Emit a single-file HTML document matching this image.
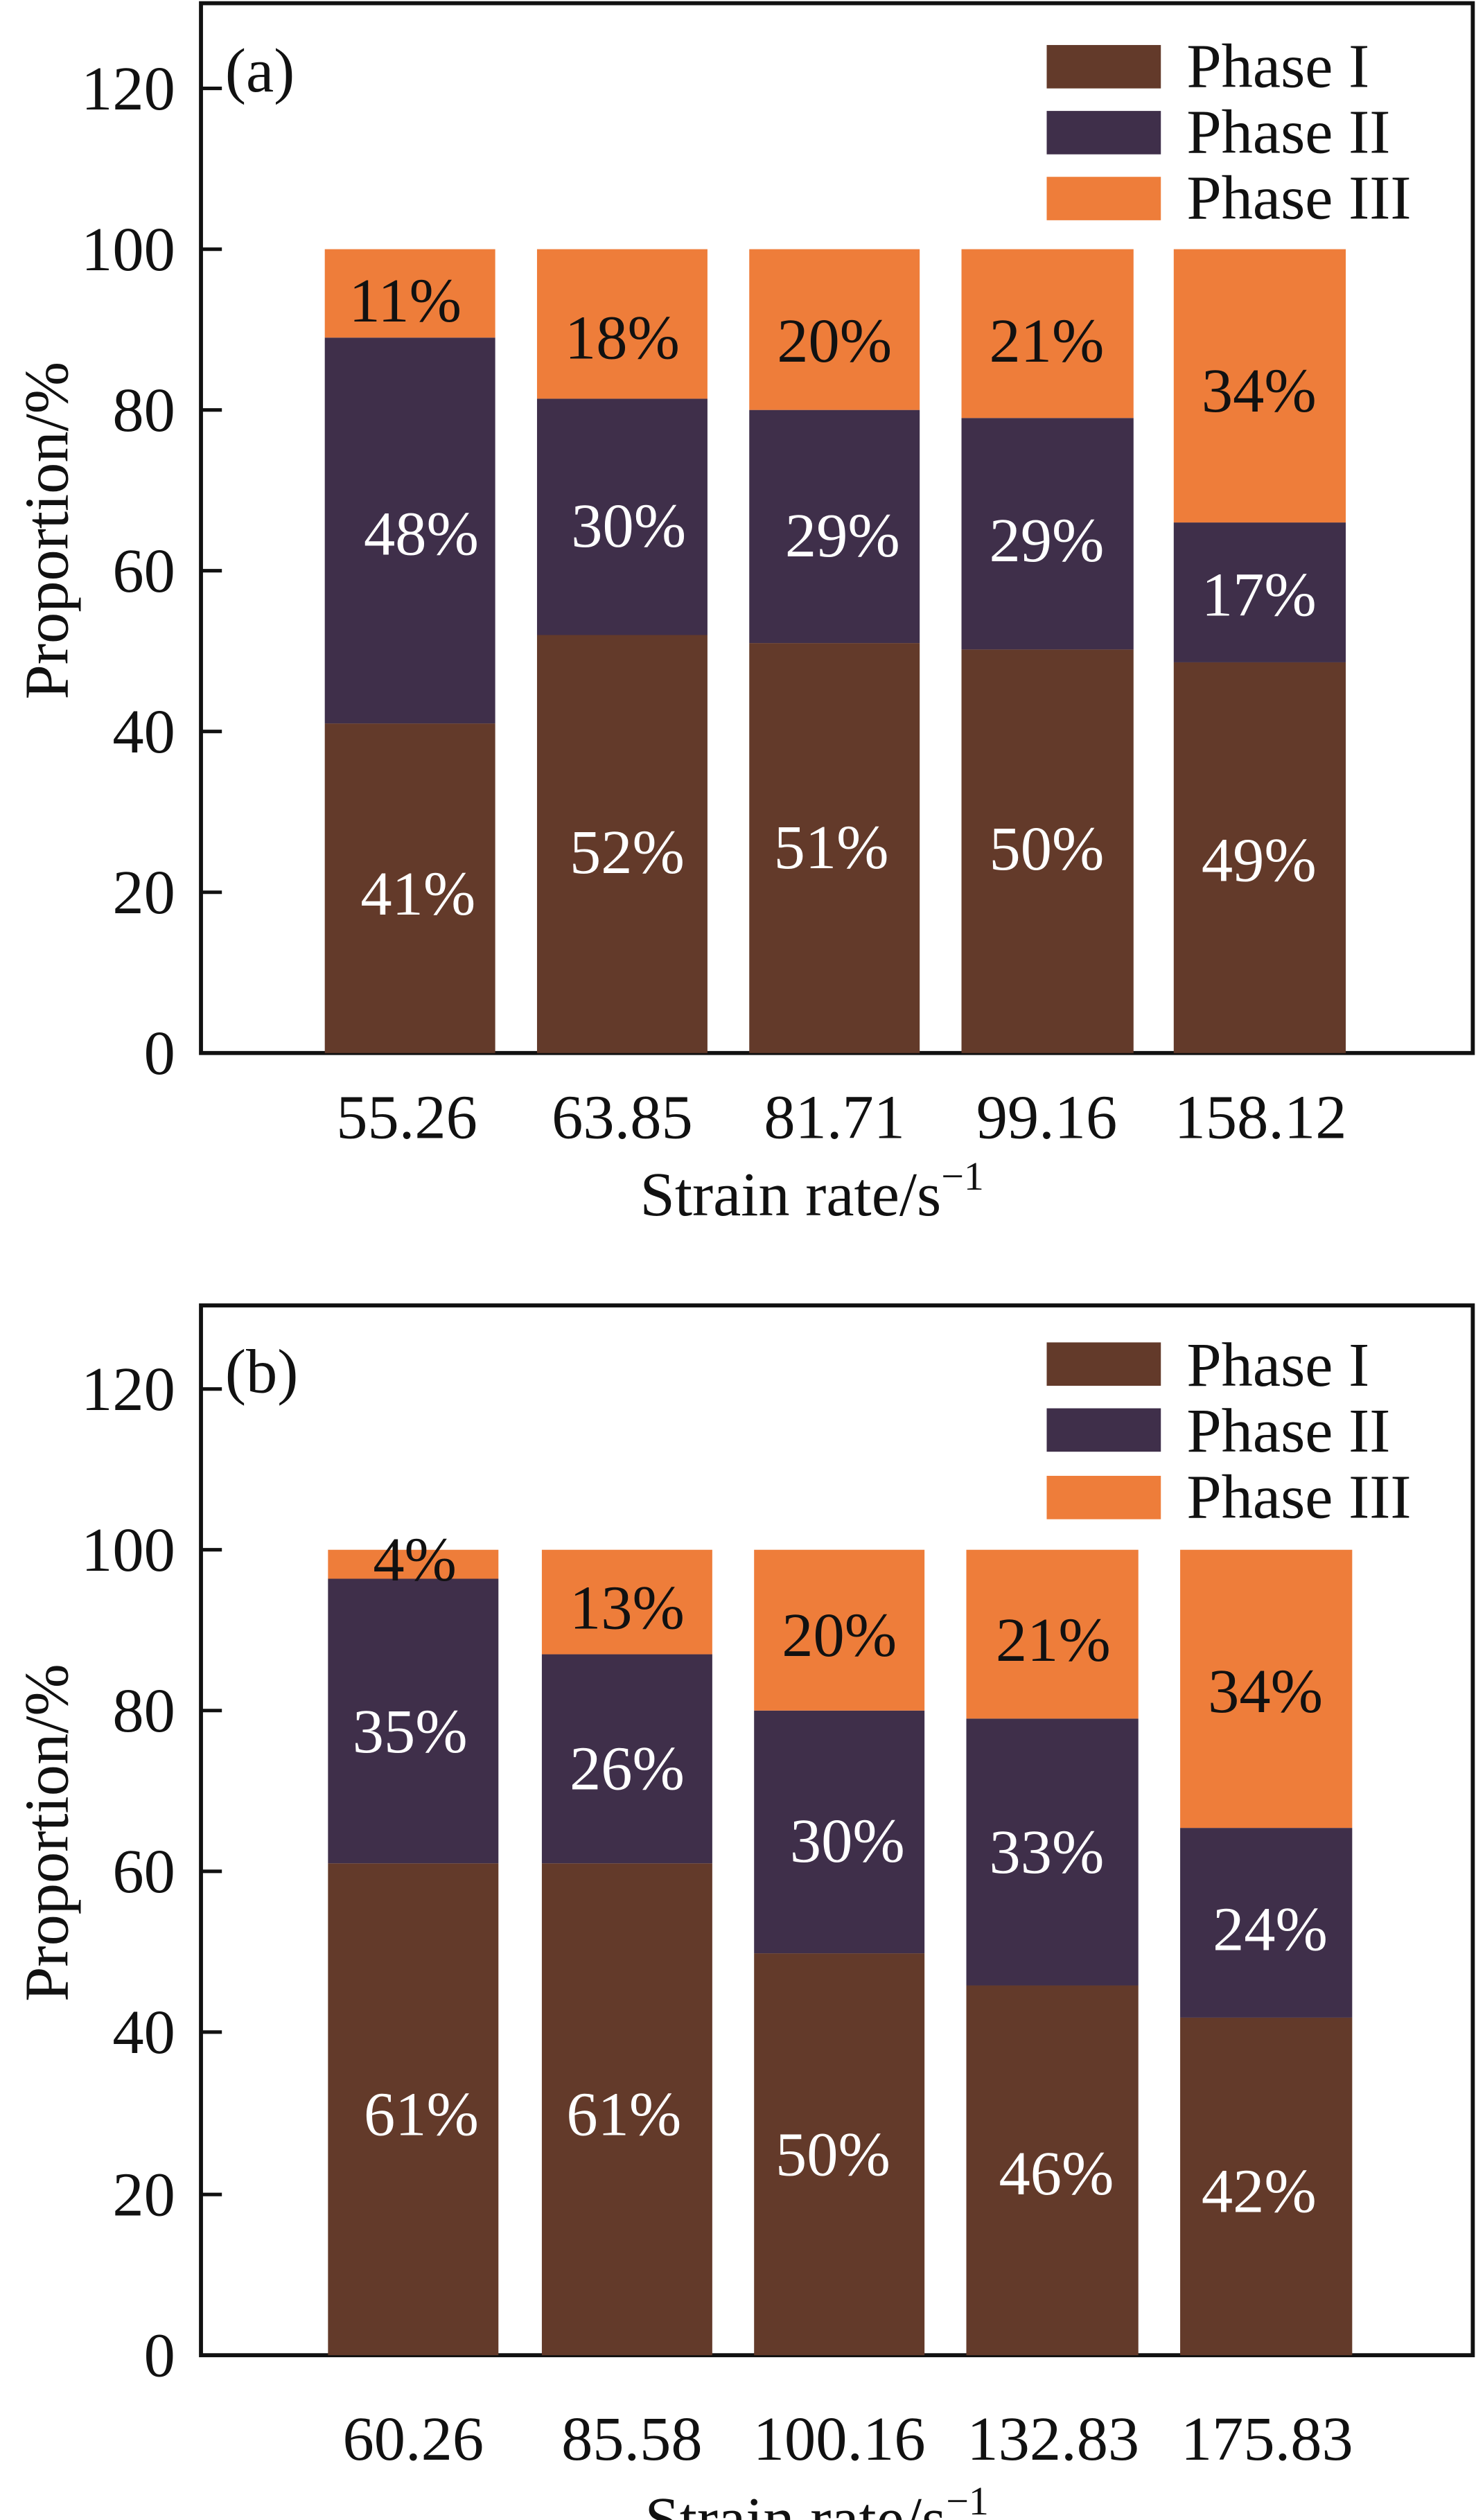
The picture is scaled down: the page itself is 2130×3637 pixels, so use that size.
<!DOCTYPE html>
<html><head><meta charset="utf-8"><style>html,body{margin:0;padding:0;background:#fff}svg{display:block}</style></head>
<body>
<svg xmlns="http://www.w3.org/2000/svg" width="2130" height="3637" viewBox="0 0 918 1567.5" preserveAspectRatio="none" font-family="'Liberation Serif', serif">
<g id="a">
<rect x="125" y="2" width="791" height="653" fill="none" stroke="#111" stroke-width="2.5"/>
<g stroke="#111" stroke-width="2.2">
<line x1="125" y1="55" x2="138" y2="55"/><line x1="125" y1="155" x2="138" y2="155"/><line x1="125" y1="255" x2="138" y2="255"/><line x1="125" y1="355" x2="138" y2="355"/><line x1="125" y1="455" x2="138" y2="455"/><line x1="125" y1="555" x2="138" y2="555"/>
</g>
<g font-size="39" text-anchor="end" fill="#111">
<text x="109" y="68">120</text><text x="109" y="168">100</text><text x="109" y="268">80</text><text x="109" y="368">60</text><text x="109" y="468">40</text><text x="109" y="568">20</text><text x="109" y="668">0</text>
</g>
<text transform="translate(42,330) rotate(-90)" font-size="39" text-anchor="middle" fill="#111">Proportion/%</text>
<text x="140" y="57" font-size="39" fill="#111">(a)</text>
<g>
<rect x="202" y="450" width="106" height="205" fill="#633A2A"/><rect x="202" y="210" width="106" height="240" fill="#3F2F4A"/><rect x="202" y="155" width="106" height="55" fill="#EE7D3A"/>
<rect x="334" y="395" width="106" height="260" fill="#633A2A"/><rect x="334" y="248" width="106" height="147" fill="#3F2F4A"/><rect x="334" y="155" width="106" height="93" fill="#EE7D3A"/>
<rect x="466" y="400" width="106" height="255" fill="#633A2A"/><rect x="466" y="255" width="106" height="145" fill="#3F2F4A"/><rect x="466" y="155" width="106" height="100" fill="#EE7D3A"/>
<rect x="598" y="404" width="107" height="251" fill="#633A2A"/><rect x="598" y="260" width="107" height="144" fill="#3F2F4A"/><rect x="598" y="155" width="107" height="105" fill="#EE7D3A"/>
<rect x="730" y="412" width="107" height="243" fill="#633A2A"/><rect x="730" y="325" width="107" height="87" fill="#3F2F4A"/><rect x="730" y="155" width="107" height="170" fill="#EE7D3A"/>
</g>
<g font-size="39" text-anchor="middle">
<g fill="#111"><text x="252" y="200">11%</text><text x="387" y="223">18%</text><text x="519" y="225">20%</text><text x="651" y="225">21%</text><text x="783" y="256">34%</text></g>
<g fill="#fff"><text x="262" y="345">48%</text><text x="391" y="340">30%</text><text x="524" y="346">29%</text><text x="651" y="349">29%</text><text x="783" y="383">17%</text>
<text x="260" y="569">41%</text><text x="390" y="543">52%</text><text x="517" y="540">51%</text><text x="651" y="541">50%</text><text x="783" y="548">49%</text></g>
</g>
<g font-size="39" text-anchor="middle" fill="#111">
<text x="253" y="708">55.26</text><text x="387" y="708">63.85</text><text x="519" y="708">81.71</text><text x="651" y="708">99.16</text><text x="784" y="708">158.12</text>
<text x="505" y="756">Strain rate/s<tspan font-size="25" dy="-16">−1</tspan></text>
</g>
<rect x="651" y="28" width="71" height="27" fill="#633A2A"/><rect x="651" y="69" width="71" height="27" fill="#3F2F4A"/><rect x="651" y="110" width="71" height="27" fill="#EE7D3A"/>
<g font-size="39" fill="#111"><text x="738" y="54">Phase I</text><text x="738" y="95">Phase II</text><text x="738" y="136">Phase III</text></g>
</g>

<g id="b">
<rect x="125" y="812" width="791" height="653" fill="none" stroke="#111" stroke-width="2.5"/>
<g stroke="#111" stroke-width="2.2">
<line x1="125" y1="864" x2="138" y2="864"/><line x1="125" y1="964" x2="138" y2="964"/><line x1="125" y1="1064" x2="138" y2="1064"/><line x1="125" y1="1164" x2="138" y2="1164"/><line x1="125" y1="1264" x2="138" y2="1264"/><line x1="125" y1="1365" x2="138" y2="1365"/>
</g>
<g font-size="39" text-anchor="end" fill="#111">
<text x="109" y="877">120</text><text x="109" y="977">100</text><text x="109" y="1077">80</text><text x="109" y="1177">60</text><text x="109" y="1277">40</text><text x="109" y="1378">20</text><text x="109" y="1478">0</text>
</g>
<text transform="translate(42,1140) rotate(-90)" font-size="39" text-anchor="middle" fill="#111">Proportion/%</text>
<text x="140" y="866" font-size="39" fill="#111">(b)</text>
<g>
<rect x="204" y="1159" width="106" height="306" fill="#633A2A"/><rect x="204" y="982" width="106" height="177" fill="#3F2F4A"/><rect x="204" y="964" width="106" height="18" fill="#EE7D3A"/>
<rect x="337" y="1159" width="106" height="306" fill="#633A2A"/><rect x="337" y="1029" width="106" height="130" fill="#3F2F4A"/><rect x="337" y="964" width="106" height="65" fill="#EE7D3A"/>
<rect x="469" y="1215" width="106" height="250" fill="#633A2A"/><rect x="469" y="1064" width="106" height="151" fill="#3F2F4A"/><rect x="469" y="964" width="106" height="100" fill="#EE7D3A"/>
<rect x="601" y="1235" width="107" height="230" fill="#633A2A"/><rect x="601" y="1069" width="107" height="166" fill="#3F2F4A"/><rect x="601" y="964" width="107" height="105" fill="#EE7D3A"/>
<rect x="734" y="1255" width="107" height="210" fill="#633A2A"/><rect x="734" y="1137" width="107" height="118" fill="#3F2F4A"/><rect x="734" y="964" width="107" height="173" fill="#EE7D3A"/>
</g>
<g font-size="39" text-anchor="middle">
<g fill="#111"><text x="258" y="983">4%</text><text x="390" y="1013">13%</text><text x="522" y="1030">20%</text><text x="655" y="1033">21%</text><text x="787" y="1065">34%</text></g>
<g fill="#fff"><text x="255" y="1090">35%</text><text x="390" y="1113">26%</text><text x="527" y="1158">30%</text><text x="651" y="1165">33%</text><text x="790" y="1213">24%</text>
<text x="262" y="1328">61%</text><text x="388" y="1328">61%</text><text x="518" y="1353">50%</text><text x="657" y="1365">46%</text><text x="783" y="1376">42%</text></g>
</g>
<g font-size="39" text-anchor="middle" fill="#111">
<text x="257" y="1530">60.26</text><text x="393" y="1530">85.58</text><text x="522" y="1530">100.16</text><text x="655" y="1530">132.83</text><text x="788" y="1530">175.83</text>
<text x="508" y="1580">Strain rate/s<tspan font-size="25" dy="-16">−1</tspan></text>
</g>
<rect x="651" y="835" width="71" height="27" fill="#633A2A"/><rect x="651" y="876" width="71" height="27" fill="#3F2F4A"/><rect x="651" y="918" width="71" height="27" fill="#EE7D3A"/>
<g font-size="39" fill="#111"><text x="738" y="862">Phase I</text><text x="738" y="903">Phase II</text><text x="738" y="944">Phase III</text></g>
</g>
</svg>
</body></html>
